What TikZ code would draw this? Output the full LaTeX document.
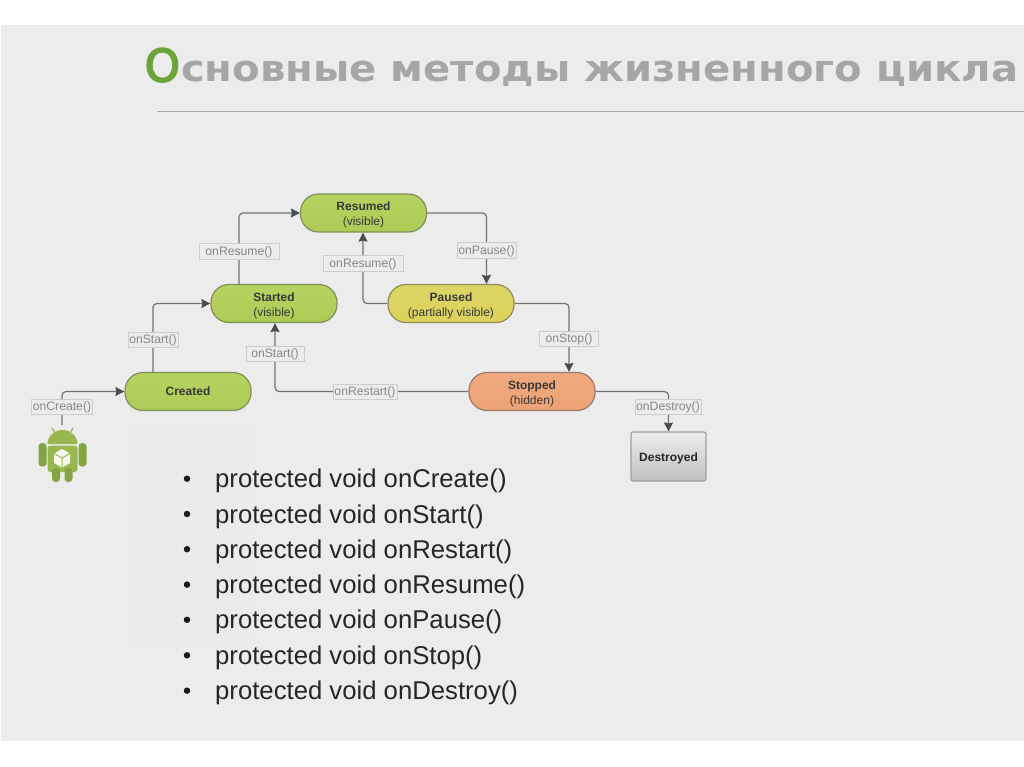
\documentclass[tikz,border=0pt]{standalone}
\usepackage{fontspec}
\setmainfont{Liberation Sans}
\newfontfamily\titlefont{DejaVu Sans}
\newfontfamily\ringfont[FakeBold=3.5]{DejaVu Sans}
\usetikzlibrary{arrows.meta,calc,backgrounds}
\definecolor{slidebg}{HTML}{ECECEC}
\definecolor{patchcol}{HTML}{EAEBED}
\definecolor{conncol}{HTML}{707274}
\definecolor{tipcol}{HTML}{4A4C50}
\definecolor{droid}{HTML}{97B84E}
\definecolor{droiddk}{HTML}{84A442}
\definecolor{B1}{HTML}{B6D260}\definecolor{B2}{HTML}{CFE184}\definecolor{B3}{HTML}{AECB56}
\definecolor{Y1}{HTML}{DCD566}\definecolor{Y2}{HTML}{EEE48C}\definecolor{Y3}{HTML}{DCD25C}
\definecolor{O1}{HTML}{EFA97E}\definecolor{O2}{HTML}{F6C4A2}\definecolor{O3}{HTML}{EDA274}
\definecolor{greenedge}{HTML}{7F8F5C}
\definecolor{yellowedge}{HTML}{8F8C58}
\definecolor{orangeedge}{HTML}{9A7A66}
\newcommand{\twolines}[2]{\rule{0pt}{13pt}\textbf{#1}\\#2}
\tikzset{
  state/.style={rounded corners=18pt,draw=#1,line width=1.2pt,minimum width=126pt,minimum height=38pt,inner sep=0pt,align=center,font=\fontsize{12}{15}\selectfont,text=black!78},
  greenstate/.style={state=greenedge,top color=B1,middle color=B2,bottom color=B3},
  yellowstate/.style={state=yellowedge,top color=Y1,middle color=Y2,bottom color=Y3},
  orangestate/.style={state=orangeedge,top color=O1,middle color=O2,bottom color=O3},
  lbl/.style={draw=black!20,fill=slidebg,line width=.8pt,inner xsep=1pt,inner ysep=1.5pt,text height=10pt,text depth=2.5pt,font=\fontsize{12.2}{14}\selectfont,text=black!47},
  conn/.style={draw=conncol,line width=1.2pt,rounded corners=4pt},
  arr/.style={conn,-{Stealth[length=9pt,width=9pt,inset=1pt,color=tipcol]}},
  bulletitem/.style={anchor=base west,inner sep=0pt,font=\fontsize{25.7}{30}\selectfont,text=black!85},
  bulletdot/.style={circle,fill=black!90,inner sep=0pt,minimum size=6.5pt},
}
\begin{document}
\begin{tikzpicture}[x=1pt,y=-1pt]
\useasboundingbox (0,0) rectangle (1024,767);
\begin{pgfonlayer}{background}
\fill[white] (0,0) rectangle (1024,767);
\fill[slidebg] (1,25) rectangle (1024,741);
\fill[patchcol] (127,425) rectangle (255,643);
\end{pgfonlayer}
% title
\node[anchor=base west,inner sep=0pt] (title) at (144.5,81.5)
  {\textcolor[HTML]{6BA53A}{\ringfont\fontsize{45}{47}\selectfont О}\hspace{1pt}\textcolor[HTML]{A6A6A6}{\scalebox{1.1}[1]{\titlefont\fontsize{36.5}{40}\selectfont\bfseries сновные методы жизненного цикла}}};
\coordinate (ruleL) at (157,111.5);
\coordinate (ruleR) at (1024,111.5);
\draw[black!35,line width=1.2pt] (ruleL) -- (ruleR);
% states
\node[greenstate] (resumed) at (363.5,213) {\twolines{Resumed}{(visible)}};
\node[greenstate] (started) at (274,303.5) {\twolines{Started}{(visible)}};
\node[yellowstate] (paused) at (451,303.5) {\twolines{Paused}{(partially visible)}};
\node[greenstate] (created) at (188,391.5) {\textbf{Created}};
\node[orangestate] (stopped) at (532,391.5) {\twolines{Stopped}{(hidden)}};
\node[draw=black!38,line width=1.1pt,rounded corners=2pt,top color=black!7,bottom color=black!25,minimum width=75pt,minimum height=49pt,inner sep=0pt,font=\fontsize{12}{14}\selectfont\bfseries,text=black!85] (destroyed) at (668.5,456.5) {\rule{0pt}{13pt}Destroyed};
% android
\coordinate (android) at (62,425);
\fill[droid] (47.5,444) arc[start angle=180,end angle=360,x radius=15,y radius=14] -- cycle;
\fill[droid,rounded corners=3pt] (47.5,445.5) -- (77.5,445.5) -- (77.5,472) -- (47.5,472) -- cycle;
\fill[droiddk,rounded corners=3.5pt] (38.5,443) rectangle (46.5,466.5);
\fill[droiddk,rounded corners=3.5pt] (78.5,443) rectangle (86.5,466.5);
\fill[droiddk,rounded corners=3.5pt] (52,468) rectangle (60,482);
\fill[droiddk,rounded corners=3.5pt] (64.5,468) rectangle (72.5,482);
\draw[droid,line width=1.2pt,line cap=round] (55,433) -- (52,428);
\draw[droid,line width=1.2pt,line cap=round] (70,433) -- (73,428);
\fill[white!92!droid] (62,449) -- (70,453.5) -- (70,463) -- (62,467.5) -- (54,463) -- (54,453.5) -- cycle;
\draw[droid,line width=1pt] (54,453.5) -- (62,458) -- (70,453.5) (62,458) -- (62,467.5);
% labels
\node[lbl] (lcreate) at (62,407) {onCreate()};
\node[lbl,minimum width=50pt] (lstart) at (153,340) {onStart()};
\node[lbl,minimum width=80pt] (lresume) at (239,251.5) {onResume()};
\node[lbl,minimum width=80pt] (lresumeb) at (363,263.5) {onResume()};
\node[lbl,minimum width=59pt] (lpause) at (486.5,250.5) {onPause()};
\node[lbl,minimum width=59pt] (lstop) at (569,339) {onStop()};
\node[lbl,minimum width=58pt] (lstartb) at (275,354) {onStart()};
\node[lbl,minimum width=64pt] (lrestart) at (365,392) {onRestart()};
\node[lbl,minimum width=66pt] (ldestroy) at (668,407) {onDestroy()};
% connectors
\begin{pgfonlayer}{background}
\draw[arr] (android) |- (created.west);
\draw[arr] (created.north -| lstart) |- (started.west);
\draw[arr] (started.north -| lresume) |- (resumed.west);
\draw[arr] (resumed.east) -| (paused.north -| lpause);
\draw[arr] (paused.west) -| (resumed.south -| lresumeb);
\draw[arr] (paused.east) -| (stopped.north -| lstop);
\draw[arr] (stopped.west) -| (started.south -| lstartb);
\draw[arr] (stopped.east) -| (destroyed.north);
\end{pgfonlayer}
% bullet list
\foreach \n/\t/\yy in {a/onCreate()/487.7,b/onStart()/523,c/onRestart()/558.2,d/onResume()/593.6,e/onPause()/628.8,f/onStop()/664.3,g/onDestroy()/699.7}{
  \node[bulletdot] (dot\n) at (187,\yy-9) {};
  \node[bulletitem] (item\n) at (215,\yy) {protected void \t};
}
\end{tikzpicture}
\end{document}
